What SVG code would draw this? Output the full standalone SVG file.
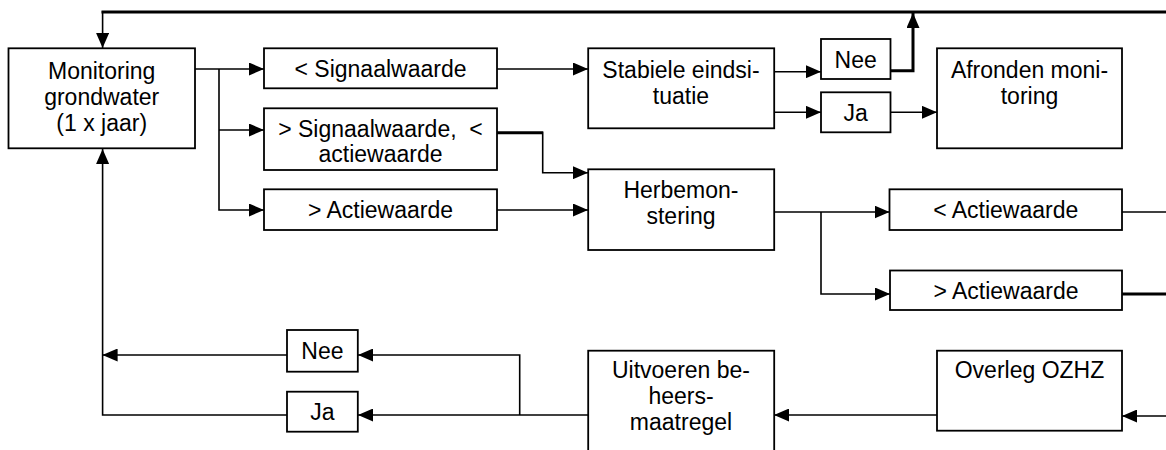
<svg xmlns="http://www.w3.org/2000/svg" width="1166" height="450" viewBox="0 0 1166 450">
<style>
.box{fill:#fff;stroke:#000;stroke-width:1.8}
.t{font-family:"Liberation Sans",Arial,sans-serif;font-size:23px;fill:#000;text-anchor:middle}
.c{fill:none;stroke:#000;stroke-width:1.6}
.k{fill:none;stroke:#000;stroke-width:3}
.a{marker-end:url(#ah)}
</style>
<defs>
<marker id="ah" markerUnits="userSpaceOnUse" markerWidth="15" markerHeight="13" refX="15" refY="6.5" orient="auto">
<path d="M0,0 L15,6.5 L0,13 z" fill="#000"/>
</marker>
</defs>
<rect width="1166" height="450" fill="#fff"/>
<g id="connectors">
<path class="k" d="M1166 12 H101.5"/>
<path class="c a" d="M102.6 11 V48"/>
<path class="k a" d="M890 70.7 H913 V13"/>
<path class="c a" d="M195 69 H264"/>
<path class="c a" d="M219 69 V210 H264"/>
<path class="c a" d="M219 130 H264"/>
<path class="c a" d="M497 69 H588"/>
<path class="k" d="M497 132.7 H542.7"/>
<path class="c a" d="M542.7 131.5 V172.7 H588"/>
<path class="c a" d="M497 210 H588"/>
<path class="c a" d="M774 71.7 H821"/>
<path class="c a" d="M774 112.3 H821"/>
<path class="c a" d="M890 112.3 H937"/>
<path class="c a" d="M774 212 H889.5"/>
<path class="c a" d="M821 212 V294 H890"/>
<path class="c" d="M1122 212 H1166"/>
<path class="k" d="M1122 294 H1166"/>
<path class="c a" d="M1166 416 H1122"/>
<path class="c a" d="M937 415 H774"/>
<path class="c a" d="M588 415 H358"/>
<path class="c a" d="M519.7 415 V355 H358"/>
<path class="c a" d="M287 355 H102.6"/>
<path class="c a" d="M287 415 H102.6 V149"/>
</g>
<g id="monitoring"><rect class="box" x="8.5" y="48.3" width="186.5" height="100"/>
<text class="t" x="101.7" y="79">Monitoring</text><text class="t" x="101.7" y="105">grondwater</text><text class="t" x="101.7" y="131">(1 x jaar)</text></g>
<g id="lt-signaal"><rect class="box" x="264" y="48.3" width="233" height="40"/>
<text class="t" x="380.5" y="77">&lt; Signaalwaarde</text></g>
<g id="gt-signaal"><rect class="box" x="264" y="108.3" width="233" height="61.7"/>
<text class="t" x="380.5" y="137" xml:space="preserve">&gt; Signaalwaarde,  &lt;</text><text class="t" x="380.5" y="162">actiewaarde</text></g>
<g id="gt-actie-1"><rect class="box" x="264" y="189.3" width="233" height="40.7"/>
<text class="t" x="380.5" y="218">&gt; Actiewaarde</text></g>
<g id="stabiel"><rect class="box" x="588.2" y="48.3" width="186" height="80"/>
<text class="t" x="681" y="78">Stabiele eindsi-</text><text class="t" x="681" y="104">tuatie</text></g>
<g id="nee-top"><rect class="box" x="821" y="39" width="69.5" height="40"/>
<text class="t" x="855.7" y="68">Nee</text></g>
<g id="ja-top"><rect class="box" x="821" y="92.3" width="69.5" height="40"/>
<text class="t" x="855.7" y="121">Ja</text></g>
<g id="afronden"><rect class="box" x="937" y="48.3" width="185" height="100"/>
<text class="t" x="1029.5" y="78">Afronden moni-</text><text class="t" x="1029.5" y="104">toring</text></g>
<g id="herbemonstering"><rect class="box" x="588.2" y="169.3" width="186" height="80.7"/>
<text class="t" x="681" y="198">Herbemon-</text><text class="t" x="681" y="224">stering</text></g>
<g id="lt-actie"><rect class="box" x="889.5" y="189.3" width="232.5" height="40.7"/>
<text class="t" x="1005.7" y="218">&lt; Actiewaarde</text></g>
<g id="gt-actie-2"><rect class="box" x="890" y="270.5" width="232" height="39.5"/>
<text class="t" x="1006" y="299">&gt; Actiewaarde</text></g>
<g id="overleg"><rect class="box" x="937" y="350.7" width="185" height="80"/>
<text class="t" x="1029.5" y="378">Overleg OZHZ</text></g>
<g id="uitvoeren"><rect class="box" x="588.2" y="350.7" width="186" height="115"/>
<text class="t" x="681" y="378">Uitvoeren be-</text><text class="t" x="681" y="404">heers-</text><text class="t" x="681" y="430">maatregel</text></g>
<g id="nee-bottom"><rect class="box" x="287" y="330" width="70.8" height="41.7"/>
<text class="t" x="322.4" y="359">Nee</text></g>
<g id="ja-bottom"><rect class="box" x="287" y="391.7" width="70.8" height="40"/>
<text class="t" x="322.4" y="420">Ja</text></g>
</svg>
